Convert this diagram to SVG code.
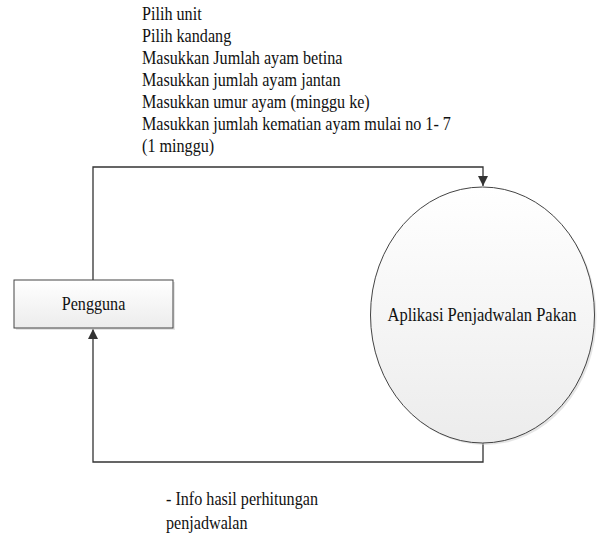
<svg xmlns="http://www.w3.org/2000/svg" width="597" height="542" viewBox="0 0 597 542">
<style>
text{font-family:'Liberation Serif','Times New Roman',serif;font-size:19px;fill:#111}
.node{stroke:#444;stroke-width:1}
.conn{fill:none;stroke:#333;stroke-width:1.3}
</style>
<defs>
<linearGradient id="g" x1="0" y1="0" x2="0" y2="1">
<stop offset="0" stop-color="#ffffff"/>
<stop offset="1" stop-color="#ececec"/>
</linearGradient>
<marker id="arr" viewBox="0 0 10 10" refX="10" refY="5" markerWidth="10" markerHeight="10" markerUnits="userSpaceOnUse" orient="auto">
<path d="M0,0 L10,5 L0,10 z" fill="#333"/>
</marker>
</defs>
<rect width="597" height="542" fill="#fff"/>
<g id="connectors">
<path class="conn" d="M93,280 V167 H483 V186" marker-end="url(#arr)"/>
<path class="conn" d="M483,443 V462 H93 V329" marker-end="url(#arr)"/>
</g>
<g id="pengguna">
<rect x="16" y="282" width="159" height="48" fill="#ccc" opacity="0.5"/>
<rect class="node" x="14" y="280" width="159" height="48" fill="url(#g)"/>
<text transform="translate(93.5,310) scale(0.85,1)" text-anchor="middle">Pengguna</text>
</g>
<g id="aplikasi">
<ellipse cx="484.5" cy="317" rx="112" ry="128" fill="#ccc" opacity="0.5"/>
<ellipse class="node" cx="482.5" cy="315" rx="112" ry="128" fill="url(#g)"/>
<text transform="translate(482,321) scale(0.87,1)" text-anchor="middle">Aplikasi Penjadwalan Pakan</text>
</g>
<g id="label-input" transform="translate(142,0) scale(0.85,1)">
<text x="0" y="20">Pilih unit</text>
<text x="0" y="42">Pilih kandang</text>
<text x="0" y="64">Masukkan Jumlah ayam betina</text>
<text x="0" y="86">Masukkan jumlah ayam jantan</text>
<text x="0" y="108">Masukkan umur ayam (minggu ke)</text>
<text x="0" y="130">Masukkan jumlah kematian ayam mulai no 1- 7</text>
<text x="0" y="152">(1 minggu)</text>
</g>
<g id="label-output" transform="translate(166,0) scale(0.85,1)">
<text x="0" y="505">- Info hasil perhitungan</text>
<text x="0" y="529">penjadwalan</text>
</g>
</svg>
